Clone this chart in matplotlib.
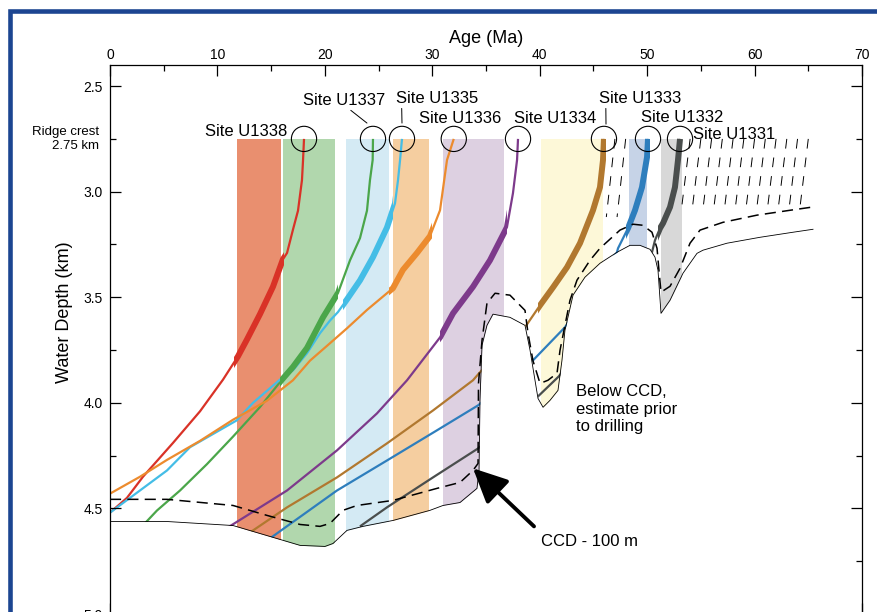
"""Backtracked paleodepth paths of the equatorial Pacific sites vs. crustal age."""
import numpy as np
import matplotlib
matplotlib.use("Agg")
import matplotlib.pyplot as plt
from matplotlib.patches import Rectangle
from matplotlib.ticker import MultipleLocator, FormatStrFormatter
from matplotlib.transforms import blended_transform_factory

plt.rcParams["font.family"] = ["Liberation Sans", "DejaVu Sans"]
plt.rcParams["lines.scale_dashes"] = False

RIDGE_CREST = 2.75  # km

# --- sites (ridge-crest age, label position) ---
sites = ["Site U1338", "Site U1337", "Site U1335", "Site U1336",
         "Site U1334", "Site U1333", "Site U1332", "Site U1331"]
site_age = [18.06, 24.48, 27.18, 32.0, 37.98, 45.98, 50.08, 53.06]
label_age = [12.66, 21.78, 30.44, 32.63, 41.42, 49.33, 53.24, 58.08]
label_depth = [2.713, 2.566, 2.557, 2.652, 2.652, 2.557, 2.647, 2.727]

# age span of the drilled section (shaded bands)
band_lo = [11.8, 16.1, 22.0, 26.3, 31.0, 40.1, 48.3, 51.3]
band_hi = [15.9, 20.9, 26.0, 29.7, 36.7, 45.9, 50.0, 53.2]
band_colors = ["#E98F6F", "#B1D7AD", "#D4EAF4", "#F5CEA0",
               "#DDD0E1", "#FDF8D8", "#C6D3E7", "#D8D8D8"]
line_colors = ["#D93227", "#4BA64A", "#44BDE6", "#EC8B2E",
               "#7D3A8B", "#B1782F", "#2E7EBD", "#4A4E4D"]

# --- subsidence paths (age Ma, water depth km) ---
u1338_age = [18.06, 17.97, 17.87, 17.5, 17.03, 16.48, 16.1, 15.17, 13.96, 12.75,
             11.91, 10.52, 8.38, 5.86, 3.07, 1.58, 0.0]
u1338_depth = [2.75, 2.85, 2.945, 3.09, 3.18, 3.29, 3.32, 3.45, 3.58, 3.70,
               3.78, 3.89, 4.04, 4.19, 4.35, 4.45, 4.52]

u1337_age = [24.48, 24.45, 24.2, 23.92, 23.27, 22.34, 21.22, 19.83, 18.34, 17.03,
             16.01, 13.96, 11.45, 9.03, 6.52, 4.37, 3.26]
u1337_depth = [2.75, 2.85, 2.945, 3.09, 3.22, 3.325, 3.48, 3.595, 3.74, 3.83,
               3.89, 4.02, 4.16, 4.29, 4.415, 4.51, 4.57]

u1335_age = [27.18, 27.0, 26.81, 26.53, 25.78, 24.48, 23.27, 22.06, 21.22, 20.48,
             19.55, 18.34, 17.03, 15.82, 13.31, 11.8, 7.45, 5.31, 2.79, 0.0]
u1335_depth = [2.75, 2.85, 2.945, 3.055, 3.17, 3.31, 3.42, 3.51, 3.57, 3.61,
               3.67, 3.765, 3.846, 3.89, 4.0, 4.083, 4.21, 4.32, 4.415, 4.52]

u1336_age = [32.0, 31.37, 30.72, 29.79, 28.58, 27.27, 26.34, 23.92, 22.06, 20.2,
             18.62, 17.03, 14.61, 11.45, 8.38, 5.31, 2.79, 0.0]
u1336_depth = [2.75, 2.85, 3.088, 3.21, 3.29, 3.37, 3.457, 3.56, 3.647, 3.73,
               3.80, 3.893, 3.99, 4.08, 4.18, 4.27, 4.35, 4.43]

u1334_age = [37.98, 37.89, 37.51, 36.95, 35.37, 33.79, 31.93, 30.72, 27.65, 24.85,
             21.13, 16.48, 10.98]
u1334_depth = [2.75, 2.85, 3.007, 3.168, 3.325, 3.45, 3.576, 3.69, 3.893, 4.05,
               4.225, 4.415, 4.59]

u1333_age = [45.98, 45.89, 45.61, 44.96, 43.75, 42.54, 41.24, 40.03, 38.63, 34.44,
             33.79, 30.07, 25.78, 21.13, 16.48, 13.03]
u1333_depth = [2.75, 2.851, 2.979, 3.088, 3.244, 3.358, 3.453, 3.538, 3.642, 3.855,
               3.893, 4.036, 4.192, 4.353, 4.495, 4.614]

u1332_age = [50.08, 49.99, 49.52, 48.87, 48.22, 47.29, 47.19, 42.35, 39.37, 34.26,
             30.44, 25.78, 21.13, 14.89]
u1332_depth = [2.75, 2.836, 2.979, 3.088, 3.173, 3.268, 3.287, 3.642, 3.799, 4.012,
               4.13, 4.273, 4.415, 4.642]

u1331_age = [53.06, 52.87, 52.59, 52.13, 51.48, 51.2, 50.73, 50.45, 41.79, 39.75,
             34.26, 30.07, 25.78, 23.27]
u1331_depth = [2.75, 2.851, 2.979, 3.073, 3.149, 3.173, 3.23, 3.287, 3.874, 3.974,
               4.216, 4.353, 4.495, 4.585]

paths = [(u1338_age, u1338_depth), (u1337_age, u1337_depth), (u1335_age, u1335_depth),
         (u1336_age, u1336_depth), (u1334_age, u1334_depth), (u1333_age, u1333_depth),
         (u1332_age, u1332_depth), (u1331_age, u1331_depth)]

# --- basement (seafloor) profile, solid ---
base_age = [0.0, 5.31, 11.45, 15.17, 17.69, 20.01, 20.76, 22.06, 23.55, 26.34,
            29.79, 31.0, 32.58, 34.16, 34.35, 34.44, 34.63, 35.09, 35.65, 37.23,
            38.63, 39.1, 39.56, 39.84, 40.31, 40.96, 41.7, 42.07, 42.35, 43.1,
            44.21, 45.61, 47.19, 48.4, 49.33, 50.27, 50.73, 51.01, 51.29, 52.13,
            53.34, 54.64, 55.2, 57.43, 60.5, 63.58, 65.44]
base_depth = [4.562, 4.562, 4.581, 4.637, 4.675, 4.68, 4.666, 4.604, 4.585, 4.557,
              4.509, 4.486, 4.472, 4.405, 4.32, 3.988, 3.727, 3.633, 3.58, 3.595,
              3.633, 3.751, 3.893, 3.979, 4.021, 3.988, 3.941, 3.799, 3.656, 3.49,
              3.405, 3.339, 3.287, 3.254, 3.254, 3.273, 3.31, 3.372, 3.576, 3.514,
              3.386, 3.292, 3.277, 3.244, 3.216, 3.192, 3.178]

# --- CCD - 100 m, dashed ---
ccd_age = [0.0, 5.31, 11.45, 14.61, 17.69, 19.55, 20.48, 21.69, 22.99, 26.34,
           30.44, 32.58, 33.79, 34.26, 34.3, 34.63, 35.09, 35.84, 37.23, 38.63,
           38.91, 39.37, 40.03, 40.77, 41.61, 41.89, 42.35, 42.82, 43.47, 44.68,
           45.61, 47.47, 48.68, 49.61, 50.45, 50.92, 51.1, 51.29, 52.13, 53.06,
           53.99, 54.92, 57.06, 60.23, 63.3, 65.35]
ccd_depth = [4.457, 4.457, 4.486, 4.533, 4.576, 4.585, 4.571, 4.509, 4.486, 4.462,
             4.405, 4.377, 4.32, 4.287, 3.908, 3.704, 3.528, 3.481, 3.49, 3.562,
             3.67, 3.80, 3.908, 3.893, 3.86, 3.751, 3.633, 3.514, 3.419, 3.325,
             3.268, 3.182, 3.154, 3.159, 3.192, 3.268, 3.372, 3.476, 3.448, 3.363,
             3.244, 3.182, 3.145, 3.111, 3.088, 3.073]

# --- undrilled crust paths (short dashed) ---
hatch_age = [47, 48, 54, 55, 56, 57, 58, 59, 60, 61, 62, 63, 64, 65]
hatch_end_depth = [3.12, 3.12, 3.08, 3.08, 3.08, 3.08, 3.08, 3.08, 3.08, 3.08,
                   3.08, 3.08, 3.085, 3.085]
HATCH_DRIFT = 0.8  # Ma of lean over the dashed path

fig = plt.figure(figsize=(8.78, 6.12), dpi=100)
ax = fig.add_axes([110 / 878, -2 / 612, 752 / 878, 549 / 612])
ax.set_xlim(0, 70)
ax.set_ylim(5.0, 2.4)

for lo, hi, c in zip(band_lo, band_hi, band_colors):
    ax.fill_between([lo, hi], RIDGE_CREST, 5.0, color=c, lw=0, zorder=1)

for a, d_end in zip(hatch_age, hatch_end_depth):
    ax.plot([a, a - HATCH_DRIFT], [RIDGE_CREST, d_end], color="k", lw=0.7,
            ls=(0, (7, 6.5)), zorder=1.2)

for (a, d), col, lo, hi in zip(paths, line_colors, band_lo, band_hi):
    ax.plot(a, d, color=col, lw=1.6, zorder=1.4, solid_capstyle="butt")
    thick, = ax.plot(a, d, color=col, lw=4.3, zorder=1.5, solid_capstyle="butt")
    thick.set_clip_path(Rectangle((lo - 0.3, 2.4), hi - lo + 0.6, 2.6,
                                  transform=ax.transData))

# hide everything below the seafloor
ax.fill_between(base_age, base_depth, 5.0, color="white", lw=0, zorder=2)
ax.plot(base_age, base_depth, color="k", lw=0.6, zorder=2.2)
ax.plot(ccd_age, ccd_depth, color="k", lw=1.1, ls=(0, (8, 4.5)), zorder=2.2)

ax.scatter(site_age, [RIDGE_CREST] * len(site_age), s=330, facecolors="none",
           edgecolors="k", linewidths=0.8, zorder=2.3)

leaders = {"Site U1337": ((23.92, 2.675), (0.54, 0.0)),
           "Site U1335": ((27.18, 2.675), (0.07, 0.0)),
           "Site U1333": ((46.17, 2.68), (0.085, 0.0))}
for name, x, y in zip(sites, label_age, label_depth):
    if name in leaders:
        xy, rel = leaders[name]
        ax.annotate(name, xy=xy, xytext=(x, y), ha="center", va="center", fontsize=12,
                    arrowprops=dict(arrowstyle="-", lw=0.7, color="k",
                                    shrinkA=0, shrinkB=0, relpos=rel))
    else:
        ax.text(x, y, name, ha="center", va="center", fontsize=12)

ax.text(43.38, 4.03, "Below CCD,\nestimate prior\nto drilling", ha="left", va="center",
        fontsize=12, linespacing=1.2, zorder=3)
ax.text(40.12, 4.656, "CCD - 100 m", ha="left", va="center", fontsize=12, zorder=3)
ax.annotate("", xy=(33.79, 4.31), xytext=(39.47, 4.585), zorder=3,
            arrowprops=dict(arrowstyle="-|>,head_length=1.05,head_width=0.5",
                            mutation_scale=20, lw=2.8, color="k",
                            shrinkA=0, shrinkB=0))

yblend = blended_transform_factory(ax.transAxes, ax.transData)
ax.text(-0.0146, RIDGE_CREST, "Ridge crest\n2.75 km", transform=yblend,
        ha="right", va="center", fontsize=9.5)
ax.text(-0.061, 3.57, "Water Depth (km)", transform=yblend, rotation=90,
        ha="center", va="center", fontsize=13)

ax.set_xlabel("Age (Ma)", fontsize=13, labelpad=4)
ax.xaxis.set_label_position("top")
ax.xaxis.set_major_locator(MultipleLocator(10))
ax.xaxis.set_minor_locator(MultipleLocator(5))
ax.yaxis.set_major_locator(MultipleLocator(0.5))
ax.yaxis.set_minor_locator(MultipleLocator(0.25))
ax.yaxis.set_major_formatter(FormatStrFormatter("%.1f"))
ax.tick_params(which="both", direction="in", top=True, bottom=True, left=True,
               right=True, labeltop=True, labelbottom=False, labelsize=10, width=0.9)
ax.tick_params(which="major", length=8)
ax.tick_params(which="minor", length=4.5)
ax.tick_params(axis="x", pad=2)
ax.tick_params(axis="y", pad=5)
for sp in ax.spines.values():
    sp.set_linewidth(0.9)

# blue frame (only left and top edges fall inside the crop)
fig.add_artist(Rectangle((10.5 / 878, -0.1), 1.2, (612 - 11) / 612 + 0.1,
                         transform=fig.transFigure, fill=False,
                         edgecolor="#1C4591", lw=3.3, clip_on=False))

fig.savefig("out.png", dpi=100)
